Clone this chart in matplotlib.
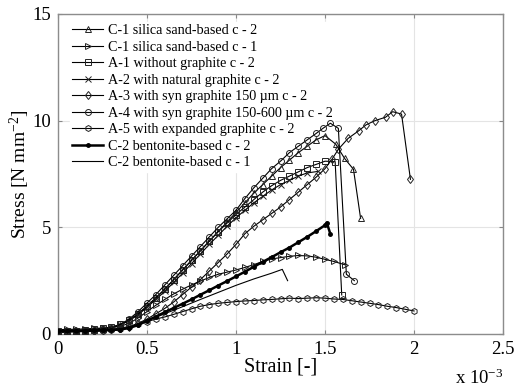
import matplotlib
matplotlib.use("Agg")
import matplotlib.pyplot as plt

plt.rcParams['font.family'] = ['Liberation Serif', 'DejaVu Serif']
plt.rcParams['mathtext.fontset'] = 'custom'
plt.rcParams['mathtext.rm'] = 'Liberation Serif'
plt.rcParams['mathtext.default'] = 'regular'

# strain in units of 1e-3, stress in N/mm^2
c1_c2_x = [0.00, 0.05, 0.10, 0.15, 0.20, 0.25, 0.30, 0.35, 0.40, 0.45, 0.50, 0.55, 0.60, 0.65, 0.70, 0.75, 0.80,
           0.85, 0.90, 0.95, 1.00, 1.05, 1.10, 1.15, 1.20, 1.25, 1.30, 1.35, 1.40, 1.45, 1.50, 1.56, 1.61, 1.66, 1.70]
c1_c2_y = [0.08, 0.10, 0.12, 0.15, 0.18, 0.22, 0.28, 0.42, 0.65, 0.95, 1.30, 1.70, 2.10, 2.55, 3.00, 3.45, 3.90,
           4.35, 4.80, 5.25, 5.70, 6.15, 6.60, 7.00, 7.40, 7.80, 8.15, 8.50, 8.80, 9.10, 9.30, 8.90, 8.23, 7.72, 5.42]

c1_c1_x = [0.00, 0.05, 0.10, 0.15, 0.20, 0.25, 0.30, 0.35, 0.40, 0.45, 0.50, 0.55, 0.60, 0.65, 0.70, 0.75, 0.80,
           0.85, 0.90, 0.95, 1.00, 1.05, 1.10, 1.15, 1.20, 1.25, 1.30, 1.35, 1.40, 1.45, 1.50, 1.55, 1.61]
c1_c1_y = [0.20, 0.22, 0.22, 0.24, 0.26, 0.28, 0.30, 0.36, 0.50, 0.75, 1.05, 1.35, 1.62, 1.88, 2.10, 2.30, 2.48,
           2.65, 2.80, 2.90, 3.00, 3.12, 3.25, 3.40, 3.52, 3.58, 3.64, 3.68, 3.66, 3.60, 3.50, 3.40, 3.25]

a1_x = [0.00, 0.05, 0.10, 0.15, 0.20, 0.25, 0.30, 0.35, 0.40, 0.45, 0.50, 0.55, 0.60, 0.65, 0.70, 0.75, 0.80,
        0.85, 0.90, 0.95, 1.00, 1.05, 1.10, 1.15, 1.20, 1.25, 1.30, 1.35, 1.40, 1.45, 1.50, 1.557, 1.594]
a1_y = [0.12, 0.14, 0.16, 0.18, 0.22, 0.26, 0.32, 0.45, 0.65, 0.95, 1.30, 1.70, 2.10, 2.55, 3.00, 3.45, 3.90,
        4.35, 4.80, 5.20, 5.60, 5.95, 6.30, 6.65, 6.95, 7.20, 7.40, 7.60, 7.80, 7.95, 8.10, 8.08, 1.83]

a2_x = [0.00, 0.05, 0.10, 0.15, 0.20, 0.25, 0.30, 0.35, 0.40, 0.45, 0.50, 0.55, 0.60, 0.65, 0.70, 0.75, 0.80,
        0.85, 0.90, 0.95, 1.00, 1.05, 1.10, 1.15, 1.20, 1.25, 1.30, 1.35, 1.40, 1.46]
a2_y = [0.10, 0.12, 0.14, 0.16, 0.20, 0.24, 0.30, 0.42, 0.62, 0.90, 1.25, 1.62, 2.00, 2.42, 2.85, 3.30, 3.75,
        4.20, 4.62, 5.05, 5.45, 5.80, 6.15, 6.45, 6.75, 7.00, 7.20, 7.40, 7.55, 7.62]

a3_x = [0.00, 0.05, 0.10, 0.15, 0.20, 0.25, 0.30, 0.35, 0.40, 0.45, 0.50, 0.55, 0.60, 0.65, 0.70, 0.75, 0.80,
        0.85, 0.90, 0.95, 1.00, 1.05, 1.10, 1.15, 1.20, 1.25, 1.30, 1.35, 1.40, 1.45, 1.50, 1.54, 1.575, 1.63,
        1.69, 1.73, 1.78, 1.84, 1.88, 1.93, 1.98]
a3_y = [0.10, 0.11, 0.12, 0.14, 0.16, 0.19, 0.22, 0.28, 0.35, 0.50, 0.70, 0.95, 1.20, 1.50, 1.85, 2.20, 2.55,
        2.95, 3.35, 3.75, 4.20, 4.70, 5.05, 5.35, 5.65, 5.95, 6.30, 6.65, 7.00, 7.35, 7.75, 8.20, 8.66, 9.17,
        9.53, 9.80, 10.00, 10.16, 10.42, 10.31, 7.25]

a4_x = [0.00, 0.05, 0.10, 0.15, 0.20, 0.25, 0.30, 0.35, 0.40, 0.45, 0.50, 0.55, 0.60, 0.65, 0.70, 0.75, 0.80,
        0.85, 0.90, 0.95, 1.00, 1.05, 1.10, 1.15, 1.20, 1.25, 1.30, 1.35, 1.40, 1.45, 1.49, 1.53, 1.575, 1.62, 1.665]
a4_y = [0.10, 0.12, 0.14, 0.17, 0.20, 0.24, 0.30, 0.45, 0.70, 1.05, 1.45, 1.85, 2.30, 2.75, 3.20, 3.65, 4.10,
        4.55, 5.00, 5.40, 5.80, 6.35, 6.85, 7.30, 7.75, 8.10, 8.50, 8.80, 9.10, 9.40, 9.65, 9.88, 9.64, 2.80, 2.50]

a5_x = [0.00, 0.05, 0.10, 0.15, 0.20, 0.25, 0.30, 0.35, 0.40, 0.45, 0.50, 0.55, 0.60, 0.65, 0.70, 0.75, 0.80,
        0.85, 0.90, 0.95, 1.00, 1.05, 1.10, 1.15, 1.20, 1.25, 1.30, 1.35, 1.40, 1.45, 1.50, 1.55, 1.60, 1.65,
        1.70, 1.75, 1.80, 1.85, 1.90, 1.95, 2.00]
a5_y = [0.08, 0.09, 0.10, 0.11, 0.12, 0.14, 0.17, 0.22, 0.32, 0.45, 0.58, 0.70, 0.80, 0.92, 1.05, 1.18, 1.30,
        1.38, 1.44, 1.48, 1.52, 1.55, 1.57, 1.60, 1.62, 1.65, 1.68, 1.66, 1.68, 1.70, 1.68, 1.64, 1.62, 1.56,
        1.50, 1.44, 1.38, 1.30, 1.24, 1.16, 1.08]

c2_c2_x = [0.00, 0.05, 0.10, 0.15, 0.20, 0.25, 0.30, 0.35, 0.40, 0.45, 0.50, 0.55, 0.60, 0.65, 0.70, 0.75, 0.80,
           0.85, 0.90, 0.95, 1.00, 1.05, 1.10, 1.15, 1.20, 1.25, 1.30, 1.35, 1.40, 1.45, 1.50, 1.51, 1.53]
c2_c2_y = [0.15, 0.15, 0.16, 0.16, 0.17, 0.18, 0.19, 0.21, 0.28, 0.42, 0.62, 0.82, 1.02, 1.22, 1.42, 1.62, 1.84,
           2.05, 2.27, 2.48, 2.70, 2.92, 3.15, 3.38, 3.60, 3.83, 4.05, 4.30, 4.55, 4.82, 5.10, 5.22, 4.69]

c2_c1_x = [0.00, 0.10, 0.20, 0.30, 0.40, 0.50, 0.60, 0.70, 0.80, 0.90, 1.00, 1.10, 1.20, 1.26, 1.29]
c2_c1_y = [0.12, 0.13, 0.15, 0.18, 0.30, 0.62, 0.95, 1.28, 1.62, 1.95, 2.28, 2.58, 2.85, 3.03, 2.50]

series = [
    (c1_c2_x, c1_c2_y, '^', 'C-1 silica sand-based c - 2'),
    (c1_c1_x, c1_c1_y, '>', 'C-1 silica sand-based c - 1'),
    (a1_x, a1_y, 's', 'A-1 without graphite c - 2'),
    (a2_x, a2_y, 'x', 'A-2 with natural graphite c - 2'),
    (a3_x, a3_y, 'd', 'A-3 with syn graphite 150 \u00b5m c - 2'),
    (a4_x, a4_y, 'o', 'A-4 with syn graphite 150-600 \u00b5m c - 2'),
    (a5_x, a5_y, 'h', 'A-5 with expanded graphite c - 2'),
    (c2_c2_x, c2_c2_y, '.', 'C-2 bentonite-based c - 2'),
    (c2_c1_x, c2_c1_y, '', 'C-2 bentonite-based c - 1'),
]

fig = plt.figure(figsize=(5.15, 3.89), dpi=100)
ax = fig.add_axes([58/515, 1-334/389, (503-58)/515, (334-14)/389])

for x, y, m, lab in series:
    if m == '.':
        ax.plot(x, y, color='black', lw=1.8, marker='.', ms=5, label=lab, zorder=3)
    elif m == '':
        ax.plot(x, y, color='black', lw=0.8, label=lab, zorder=3)
    else:
        ax.plot(x, y, color='black', lw=0.8, marker=m, ms=4.3, mfc='none', mec='#222222', mew=0.7,
                label=lab, zorder=3)

ax.set_xlim(0, 2.5)
ax.set_ylim(0, 15)
ax.set_xticks([0, 0.5, 1, 1.5, 2, 2.5])
ax.set_xticklabels(['0', '0.5', '1', '1.5', '2', '2.5'])
ax.set_yticks([0, 5, 10, 15])
ax.grid(True, color='#e4e4e4', lw=0.8)
ax.set_axisbelow(True)
ax.tick_params(direction='in', top=True, right=True, labelsize=13.5, length=3, color='#888888', pad=5)
for s in ax.spines.values():
    s.set_color('#8c8c8c')
    s.set_linewidth(1.0)

ax.set_xlabel('Strain [-]', fontsize=14.5, labelpad=0)
ax.set_ylabel('Stress [N mm$^{-2}$]', fontsize=14, labelpad=0)

fig.text(503/515, 1-384/389, 'x 10$^{-3}$', fontsize=13.5, ha='right', va='baseline')

# legend drawn under the curves but above the grid
leg = ax.legend(loc='upper left', bbox_to_anchor=(12/445, 0.975), fontsize=10.2, frameon=True, fancybox=False,
                edgecolor='white', framealpha=1, handlelength=2.2, handletextpad=0.3, labelspacing=0.25,
                borderpad=0.15, borderaxespad=0)
leg.set_zorder(1.5)

fig.savefig('out.png', dpi=100)
